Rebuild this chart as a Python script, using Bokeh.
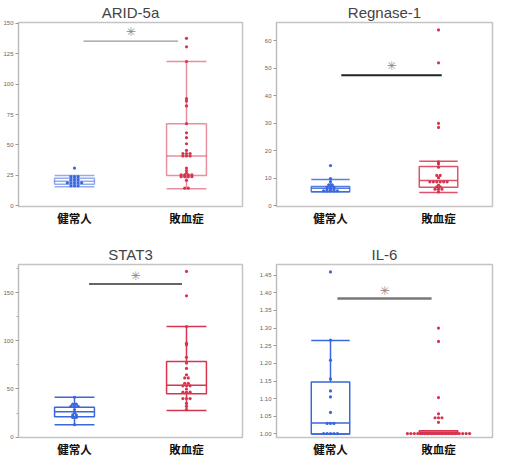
from bokeh.plotting import figure
from bokeh.layouts import column, row
from bokeh.models import FixedTicker
from bokeh.core.properties import value
from bokeh.embed import file_html
from bokeh.resources import INLINE

# ---------------- data ----------------
groups = ["健常人", "敗血症"]

# ARID-5a
arid_healthy = [31, 24, 24, 24, 21.5, 21.5, 21.5, 19, 19, 19, 19, 19, 16.5, 16.5, 16.5]
arid_sepsis = [137.5, 130.5, 118.5, 88, 86, 82, 67.5, 60, 56, 51, 45.5, 43, 43, 43,
               41, 41, 41, 31, 29, 27, 25.5, 25.5, 25.5, 25.5, 24, 24, 24, 24, 21, 14.5, 14.5]
# box stats: [low whisker, q1, median, q3, high whisker]
arid_healthy_box = [15.7, 17.8, 20.3, 22.7, 25.0]
arid_sepsis_box = [14.0, 25.0, 41.0, 67.5, 118.5]
arid_ticks = [0, 25, 50, 75, 100, 125, 150]
arid_sig = 135.2

# Regnase-1
reg_healthy = [14.6, 9.9, 8.7, 7.6, 7.6, 6.8, 6.8, 6.8, 6.1, 6.1, 6.1, 5.4, 5.4, 5.4, 5.4, 5.4]
reg_sepsis = [64, 52, 30, 28.5, 16, 15.3, 14, 11, 11, 10.2, 8.7, 8.7, 8.7, 8.7, 8.7, 8.7,
              7.5, 6.9, 6.9, 6.0, 6.0, 6.0, 5.0]
reg_healthy_box = [5.1, 5.1, 6.3, 7.0, 9.5]
reg_sepsis_box = [4.8, 6.7, 9.2, 14.3, 16.2]
reg_ticks = [0, 10, 20, 30, 40, 50, 60]
reg_sig = 47.5

# STAT3
stat_healthy = [41.4, 34.2, 34.2, 32, 32, 32, 28.6, 25.3, 23, 23, 20.4, 20.4, 12.8]
stat_sepsis = [172.4, 147, 115, 97.7, 96, 83, 77, 71.4, 64.8, 61.5, 61.5, 56, 56, 53.3, 53.3,
               53.3, 50, 46.7, 46.7, 46.7, 40, 40, 40, 35, 32, 28.6]
stat_healthy_box = [12.8, 21.0, 26.3, 31.0, 41.4]
stat_sepsis_box = [27.6, 45.0, 54.0, 78.6, 115.0]
stat_ticks = [0, 50, 100, 150]
stat_sig = 159.2

# IL-6
il6_healthy = [1.459, 1.266, 1.209, 1.156, 1.122, 1.105, 1.061, 1.03, 1.03, 1.03,
               1.001, 1.001, 1.001, 1.001, 1.001]
il6_sepsis = [1.30, 1.262, 1.103, 1.057, 1.046, 1.046, 1.046, 1.033,
              1.001, 1.001, 1.001, 1.001, 1.001, 1.001, 1.001, 1.001, 1.001, 1.001,
              1.001, 1.001, 1.001, 1.001, 1.001, 1.001, 1.001, 1.001, 1.001]
il6_healthy_box = [1.0, 1.0, 1.031, 1.147, 1.265]
il6_sepsis_box = [1.0, 1.0, 1.004, 1.009, 1.009]
il6_ticks = [1.00, 1.05, 1.10, 1.15, 1.20, 1.25, 1.30, 1.35, 1.40, 1.45]
il6_sig = 1.384

BLUE = "#3a67dc"
RED = "#d7354f"


def swarm(center, vals, step, dx):
    rows = {}
    for v in vals:
        rows.setdefault(round(v / step), []).append(v)
    xs, ys = [], []
    for vs in rows.values():
        k = len(vs)
        for i, v in enumerate(vs):
            xs.append(center + (i - (k - 1) / 2) * dx)
            ys.append(v)
    return xs, ys


def draw_box(p, center, st, color, alpha, lw, hw=0.178):
    lo, q1, med, q3, hi = st
    p.quad(left=[center - hw], right=[center + hw], bottom=[q1], top=[q3],
           fill_alpha=0, line_color=color, line_alpha=alpha, line_width=lw)
    p.segment(x0=[center - hw, center - hw, center - hw, center, center],
              x1=[center + hw, center + hw, center + hw, center, center],
              y0=[med, hi, lo, q3, q1], y1=[med, hi, lo, hi, lo],
              line_color=color, line_alpha=alpha, line_width=lw)


def panel(title, healthy, sepsis, hbox, sbox, ticks, labels, yr, sig, sig_color, sig_w,
          step, w, h, bl, br, bt, bb, box_alpha=1.0, minor=False, star_dy=0.0):
    p = figure(width=w, height=h, x_range=(0.5, 2.5), y_range=yr,
               output_backend="svg", toolbar_location=None,
               min_border_left=bl, min_border_right=br, min_border_top=bt,
               min_border_bottom=bb)
    p.title.text = title
    p.title.text_font = "Liberation Sans"
    p.title.text_font_size = "15px"
    p.title.text_font_style = "normal"
    p.title.align = "center"
    p.title.standoff = 3
    p.grid.visible = False
    p.outline_line_color = "#c4c4c4"
    p.outline_line_width = 1.5

    p.xaxis.axis_label = None
    p.yaxis.axis_label = None
    p.xaxis.ticker = FixedTicker(ticks=[1, 2])
    p.xaxis.major_label_overrides = {1: groups[0], 2: groups[1]}
    p.xaxis.axis_line_color = None
    p.xaxis.major_tick_line_color = None
    p.xaxis.minor_tick_line_color = None
    p.xaxis.major_tick_out = 0
    p.xaxis.major_tick_in = 0
    p.xaxis.minor_tick_out = 0
    p.xaxis.minor_tick_in = 0
    p.xaxis.major_label_text_font = "Noto Sans CJK JP"
    p.xaxis.major_label_text_font_size = "11.5px"
    p.xaxis.major_label_text_font_style = "bold"
    p.xaxis.major_label_text_color = "#111111"
    p.xaxis.major_label_standoff = 3

    if minor:
        mt = []
        for a, b in zip(ticks[:-1], ticks[1:]):
            mt.append((a + b) / 2)
        mt.append(ticks[-1] + (ticks[1] - ticks[0]) / 2)
        p.yaxis.ticker = FixedTicker(ticks=ticks, minor_ticks=mt)
        p.yaxis.minor_tick_line_color = "#aaaaaa"
        p.yaxis.minor_tick_out = 2
        p.yaxis.minor_tick_in = 0
    else:
        p.yaxis.ticker = FixedTicker(ticks=ticks)
        p.yaxis.minor_tick_line_color = None
    p.yaxis.major_label_overrides = {t: l for t, l in zip(ticks, labels)}
    p.yaxis.major_label_text_font = "Liberation Sans"
    p.yaxis.major_label_text_font_size = "6px"
    p.yaxis.major_label_text_color = "#666666"
    p.yaxis.axis_line_color = "#bbbbbb"
    p.yaxis.major_tick_line_color = "#999999"
    p.yaxis.major_tick_out = 3
    p.yaxis.major_tick_in = 0
    p.yaxis.major_label_standoff = 2

    draw_box(p, 1, hbox, BLUE, box_alpha, 1.5)
    draw_box(p, 2, sbox, RED, box_alpha, 1.5)

    hx, hy = swarm(1, healthy, step, 0.032)
    sx, sy = swarm(2, sepsis, step, 0.032)
    p.scatter(hx, hy, size=3.2, color=BLUE, line_width=0)
    p.scatter(sx, sy, size=3.2, color=RED, line_width=0)

    x0, x1, ym = sig
    p.segment(x0=[x0], x1=[x1], y0=[ym], y1=[ym], line_color=sig_color, line_width=sig_w)
    p.text(x=[(x0 + x1) / 2], y=[ym + star_dy], text=["✳"],
           text_font=value("DejaVu Sans"), text_font_size="12px",
           text_align="center", text_baseline="middle", text_color="#888888")
    return p


p1 = panel("ARID-5a", arid_healthy, arid_sepsis, arid_healthy_box, arid_sepsis_box,
           arid_ticks, [str(t) for t in arid_ticks], (-0.5, 150.5),
           (1.08, 1.925, arid_sig), "#999999", 1.2, 1.5,
           247, 230, 17, 5, 21, 24, box_alpha=0.55, star_dy=7.5)
p2 = panel("Regnase-1", reg_healthy, reg_sepsis, reg_healthy_box, reg_sepsis_box,
           reg_ticks, [str(t) for t in reg_ticks], (-0.3, 66.7),
           (1.1, 2.03, reg_sig), "#222222", 2, 0.5,
           247, 230, 29, 2, 22, 22, box_alpha=0.85, star_dy=3.5)
p3 = panel("STAT3", stat_healthy, stat_sepsis, stat_healthy_box, stat_sepsis_box,
           stat_ticks, [str(t) for t in stat_ticks], (-0.5, 179.6),
           (1.13, 1.96, stat_sig), "#333333", 1.5, 2.0,
           247, 229, 18, 5, 34, 17, minor=True, star_dy=8.6)
p4 = panel("IL-6", il6_healthy, il6_sepsis, il6_healthy_box, il6_sepsis_box,
           il6_ticks, ["%.2f" % t for t in il6_ticks], (0.99, 1.48),
           (1.064, 1.936, il6_sig), "#777777", 2.5, 0.004,
           247, 229, 29, 2, 32, 17, star_dy=0.022)

layout = column(row(p1, p2, spacing=0), row(p3, p4, spacing=0), spacing=0)
open("out.html", "w").write(file_html(layout, INLINE))
